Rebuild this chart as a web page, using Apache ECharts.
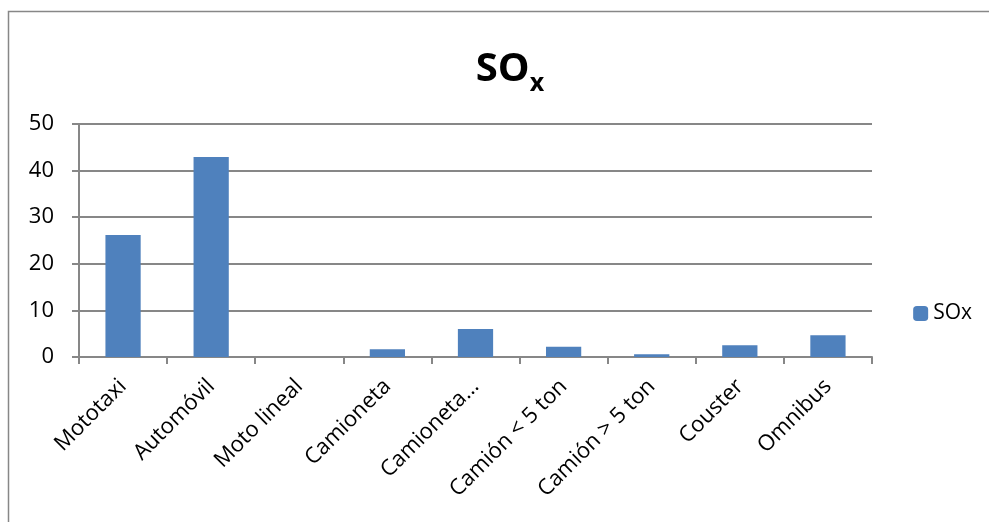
<!DOCTYPE html>
<html><head><meta charset="utf-8">
<script src="https://cdn.jsdelivr.net/npm/echarts@6/dist/echarts.min.js"></script>
<style>html,body{margin:0;padding:0;background:#fff}#c{width:989px;height:522px}</style>
</head><body><div id="c"></div>
<script>
const categories = ['Mototaxi','Automóvil','Moto lineal','Camioneta','Camioneta...','Camión < 5 ton','Camión > 5 ton','Couster','Omnibus'];
const soxValues = [26.2, 42.9, 0, 1.65, 6.0, 2.2, 0.6, 2.5, 4.65];
const yTicks = [0, 10, 20, 30, 40, 50];
const seriesName = 'SOx';

const chart = echarts.init(document.getElementById('c'));
const font = 'Open Sans';
chart.setOption({
  animation: false,
  backgroundColor: '#fff',
  graphic: [{
    type: 'rect', shape: {x: 8.5, y: 11.5, width: 1000, height: 600},
    style: {fill: 'none', stroke: '#878787', lineWidth: 1.5}, silent: true
  }],
  title: {
    text: '{a|SO}{b|x}',
    left: 505, top: 39, textAlign: 'center',
    textStyle: {
      rich: {
        a: {fontFamily: font, fontWeight: 'bold', fontSize: 40, color: '#000', lineHeight: 52},
        b: {fontFamily: font, fontWeight: 'bold', fontSize: 25, color: '#000', verticalAlign: 'bottom', padding: [22, 0, 0, 0]}
      }
    }
  },
  legend: {
    data: [seriesName], right: 12, top: 298, orient: 'vertical',
    itemWidth: 15, itemHeight: 15, itemGap: 6,
    textStyle: {fontFamily: font, fontSize: 21, color: '#000'}
  },
  grid: {left: 79, right: 117, top: 124, bottom: 165, containLabel: false},
  xAxis: {
    type: 'category', data: categories,
    axisLine: {lineStyle: {color: '#878787', width: 2}},
    axisTick: {show: true, length: 7, lineStyle: {color: '#878787', width: 2}},
    axisLabel: {rotate: 45, fontFamily: font, fontSize: 22, color: '#000', margin: 26, interval: 0}
  },
  yAxis: {
    type: 'value', min: yTicks[0], max: yTicks[yTicks.length - 1], interval: 10,
    axisLine: {show: true, lineStyle: {color: '#878787', width: 2}},
    axisTick: {show: true, length: 7, lineStyle: {color: '#878787', width: 2}},
    splitLine: {lineStyle: {color: '#878787', width: 2}},
    axisLabel: {fontFamily: font, fontSize: 22, color: '#000', margin: 25}
  },
  series: [{
    name: seriesName, type: 'bar', data: soxValues, barWidth: '40%',
    itemStyle: {color: '#4F81BD'}
  }]
});
</script></body></html>
